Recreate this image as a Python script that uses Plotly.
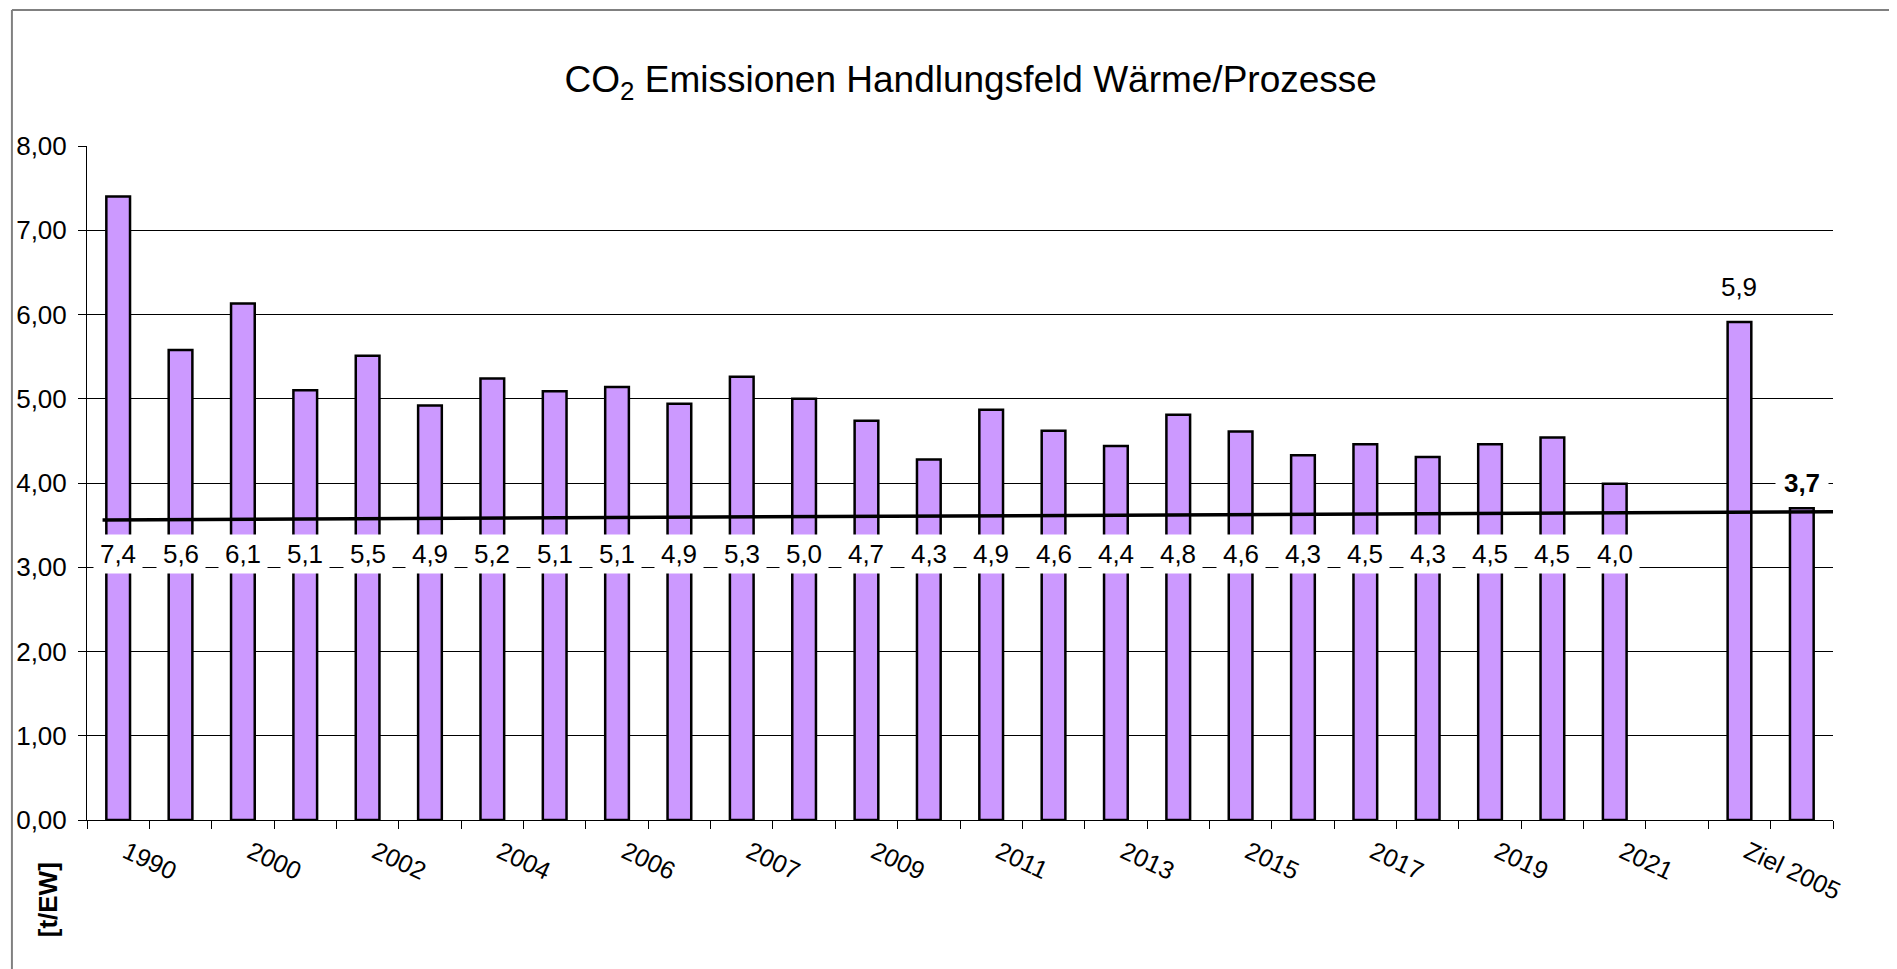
import plotly.graph_objects as go

# ---- data ----
categories = ["1990", "1995", "2000", "2001", "2002", "2003", "2004", "2005",
              "2006", "2006a", "2007", "2008", "2009", "2010", "2011", "2012",
              "2013", "2014", "2015", "2016", "2017", "2018", "2019", "2020",
              "2021", "", "Ziel 2005", "Ziel"]
values = [7.40, 5.58, 6.13, 5.10, 5.51, 4.92, 5.24, 5.09,
          5.14, 4.94, 5.26, 5.00, 4.74, 4.28, 4.87, 4.62,
          4.44, 4.81, 4.61, 4.33, 4.46, 4.31, 4.46, 4.54,
          3.99, None, 5.91, 3.70]
trend_values = [3.56, 3.66]
y_ticks = [0, 1, 2, 3, 4, 5, 6, 7, 8]

LABEL_ROW_Y = 3.16
FONT = "Liberation Sans, Arial, sans-serif"

n = len(categories)
xpos = list(range(1, n + 1))

def fmt(v):
    return f"{v:.1f}".replace(".", ",")

fig = go.Figure()

fig.add_trace(go.Bar(
    x=xpos, y=values, width=0.38,
    marker=dict(color="#CC99FF", line=dict(color="black", width=2.5)),
    showlegend=False, hoverinfo="skip",
))

# trend line across the chart
fig.add_trace(go.Scatter(
    x=[0.75, n + 0.6], y=trend_values, mode="lines",
    line=dict(color="black", width=3.5), showlegend=False,
    hoverinfo="skip", cliponaxis=False,
))

annotations = []
for i, v in enumerate(values):
    if v is None:
        continue
    cat = categories[i]
    if cat.startswith("Ziel"):
        txt = fmt(v)
        if cat == "Ziel":
            txt = "<b>" + txt + "</b>"
            ys = 6
        else:
            ys = 16
        annotations.append(dict(
            x=xpos[i], y=v, xref="x", yref="y", text=txt, showarrow=False,
            yanchor="bottom", yshift=ys, bgcolor="white", borderpad=3, width=46,
            font=dict(family=FONT, size=26, color="black"),
        ))
    else:
        annotations.append(dict(
            x=xpos[i], y=LABEL_ROW_Y, xref="x", yref="y", text=fmt(v),
            showarrow=False, bgcolor="white", borderpad=4, width=40,
            font=dict(family=FONT, size=26, color="black"),
        ))

annotations.append(dict(
    x=-0.0223, y=-0.119, xref="paper", yref="paper", text="<b>[t/EW]</b>",
    textangle=-90, showarrow=False, xanchor="center", yanchor="middle",
    font=dict(family=FONT, size=26, color="black"),
))

shapes = [
    dict(type="line", xref="paper", yref="paper", x0=-0.043, x1=1.05,
         y0=1.2018, y1=1.2018, line=dict(color="#808080", width=2)),
    dict(type="line", xref="paper", yref="paper", x0=-0.043, x1=-0.043,
         y0=1.2018, y1=-0.25, line=dict(color="#808080", width=2)),
]

fig.update_layout(
    width=1897, height=969,
    margin=dict(l=79, r=72, t=138, b=157, autoexpand=False),
    paper_bgcolor="white", plot_bgcolor="white",
    separators=",.",
    font=dict(family=FONT, color="black"),
    title=dict(text="CO<sub>2</sub> Emissionen Handlungsfeld Wärme/Prozesse",
               x=0.5075, xanchor="center", y=1 - 71 / 969, yanchor="middle",
               font=dict(family=FONT, size=37, color="black")),
    xaxis=dict(
        range=[0.5, n + 0.5], tickmode="array", tickvals=xpos[::2],
        ticktext=categories[::2], automargin=False,
        tickangle=25, ticks="", showgrid=False, zeroline=False,
        showline=True, linecolor="black", linewidth=1,
        tickfont=dict(family=FONT, size=25, color="black"),
        ticklabelstandoff=7, ticklabelshift=8,
        minor=dict(tickmode="array", tickvals=[p - 0.5 for p in xpos] + [n + 0.5],
                   ticks="outside", ticklen=8, tickcolor="black", tickwidth=1,
                   showgrid=False),
    ),
    yaxis=dict(
        range=[0, 8], tickmode="array", tickvals=y_ticks, tickformat=".2f",
        ticks="outside", ticklen=8, tickcolor="black", automargin=False,
        showgrid=True, gridcolor="black", gridwidth=1, zeroline=False,
        showline=True, linecolor="black", linewidth=1,
        tickfont=dict(family=FONT, size=26, color="black"),
        ticklabelstandoff=6,
    ),
    annotations=annotations,
    shapes=shapes,
)

fig.write_html("out.html")
